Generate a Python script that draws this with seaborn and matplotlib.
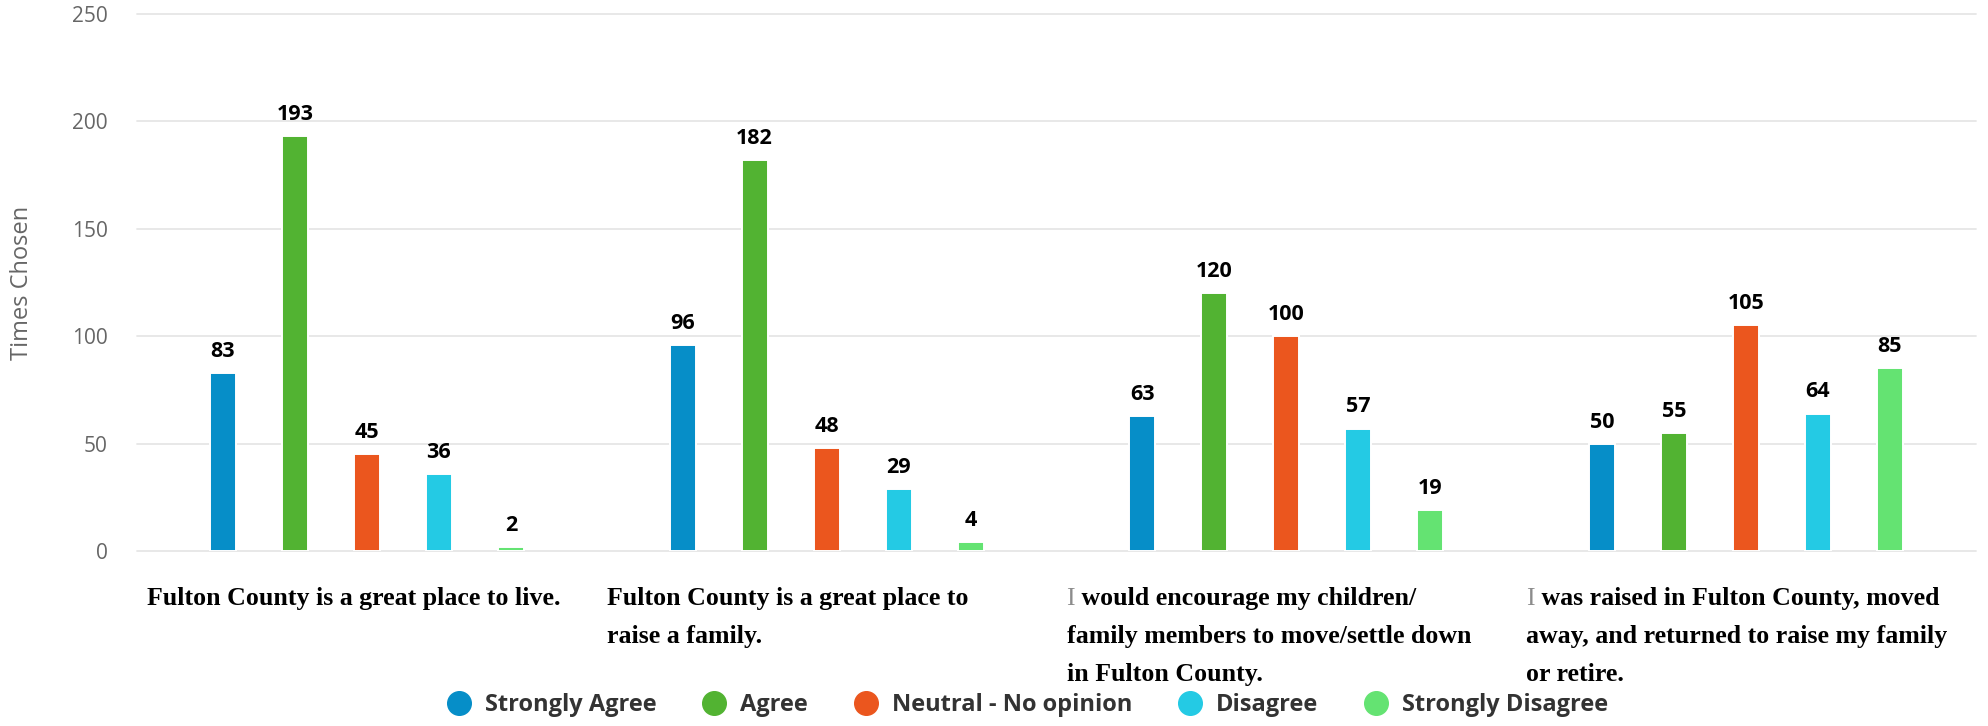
import matplotlib
matplotlib.use("Agg")
import matplotlib.pyplot as plt
import matplotlib.transforms as mtransforms
from matplotlib.lines import Line2D
import pandas as pd
import seaborn as sns

# Data
statements = [
    "Fulton County is a great place to live.",
    "Fulton County is a great place to\nraise a family.",
    "I would encourage my children/\nfamily members to move/settle down\nin Fulton County.",
    "I was raised in Fulton County, moved\naway, and returned to raise my family\nor retire.",
]
responses = ["Strongly Agree", "Agree", "Neutral - No opinion", "Disagree", "Strongly Disagree"]
strongly_agree = [83, 96, 63, 50]
agree = [193, 182, 120, 55]
neutral = [45, 48, 100, 105]
disagree = [36, 29, 57, 64]
strongly_disagree = [2, 4, 19, 85]
colors = ["#068ec8", "#52b332", "#eb561e", "#24cae4", "#64e372"]

rows = []
for resp, vals in zip(responses, [strongly_agree, agree, neutral, disagree, strongly_disagree]):
    for st, v in zip(statements, vals):
        rows.append({"statement": st, "response": resp, "count": v})
df = pd.DataFrame(rows)

sns.set_theme(style="white")
plt.rcParams["font.family"] = ["Open Sans", "DejaVu Sans"]

fig = plt.figure(figsize=(19.88, 7.26), dpi=100)
ax = fig.add_axes([0.0689, 0.241, 0.925, 0.7397])

sns.barplot(data=df, x="statement", y="count", hue="response",
            order=statements, hue_order=responses, palette=colors, saturation=1,
            width=0.783, gap=0.64, edgecolor="white", linewidth=1.4,
            errorbar=None, legend=False, ax=ax, zorder=3)

ax.set_xlim(-0.5, 3.5)
ax.set_ylim(0, 250)
ax.set_yticks(range(0, 251, 50))
ax.yaxis.grid(True, color="#e6e6e6", linewidth=1.3)
ax.xaxis.grid(False)
ax.set_axisbelow(True)
for gl in ax.get_ygridlines():
    gl.set_clip_on(False)
sns.despine(ax=ax, left=True, bottom=True)
ax.tick_params(axis="y", length=0, pad=21, labelsize=15, labelcolor="#666666")
ax.set_xticks([])
ax.set_xlabel("")
ax.set_ylabel("Times Chosen", fontsize=17, color="#666666")
ax.yaxis.set_label_coords(-0.0625, 0.5)
ax.yaxis.label.set_va("center")

# value labels
for cont in ax.containers:
    ax.bar_label(cont, padding=8, fontsize=15.5, fontweight="bold", color="#000000")

# statement labels below the axis
trans = mtransforms.blended_transform_factory(ax.transData, ax.transAxes)
lab_font = dict(family="Liberation Serif", fontweight="bold", fontsize=18.6)
for i, st in enumerate(statements):
    for j, line in enumerate(st.split("\n")):
        y = -0.1 - j * 0.0708
        x = i - 0.478
        if j == 0 and line.startswith("I "):
            t = ax.text(x, y, "I", color="#8c8c8c", va="baseline", ha="left",
                        transform=trans, family="Liberation Serif", fontsize=18.6)
            ax.annotate(line[1:], xy=(1, 0), xycoords=t, va="bottom", ha="left",
                        color="#000000", **lab_font)
        else:
            ax.text(x, y, line, va="baseline", ha="left", transform=trans,
                    color="#000000", **lab_font)

# legend
handles = [Line2D([], [], marker="o", linestyle="", markersize=17,
                  markerfacecolor=c, markeredgecolor=c) for c in colors]
fig.legend(handles, responses, loc="center", bbox_to_anchor=(0.517, 0.029),
           ncol=5, frameon=False, prop={"family": "Open Sans", "weight": "bold", "size": 17},
           labelcolor="#333333", handlelength=1.0, handletextpad=0.6, columnspacing=1.95)

fig.savefig("out.png", dpi=100)
